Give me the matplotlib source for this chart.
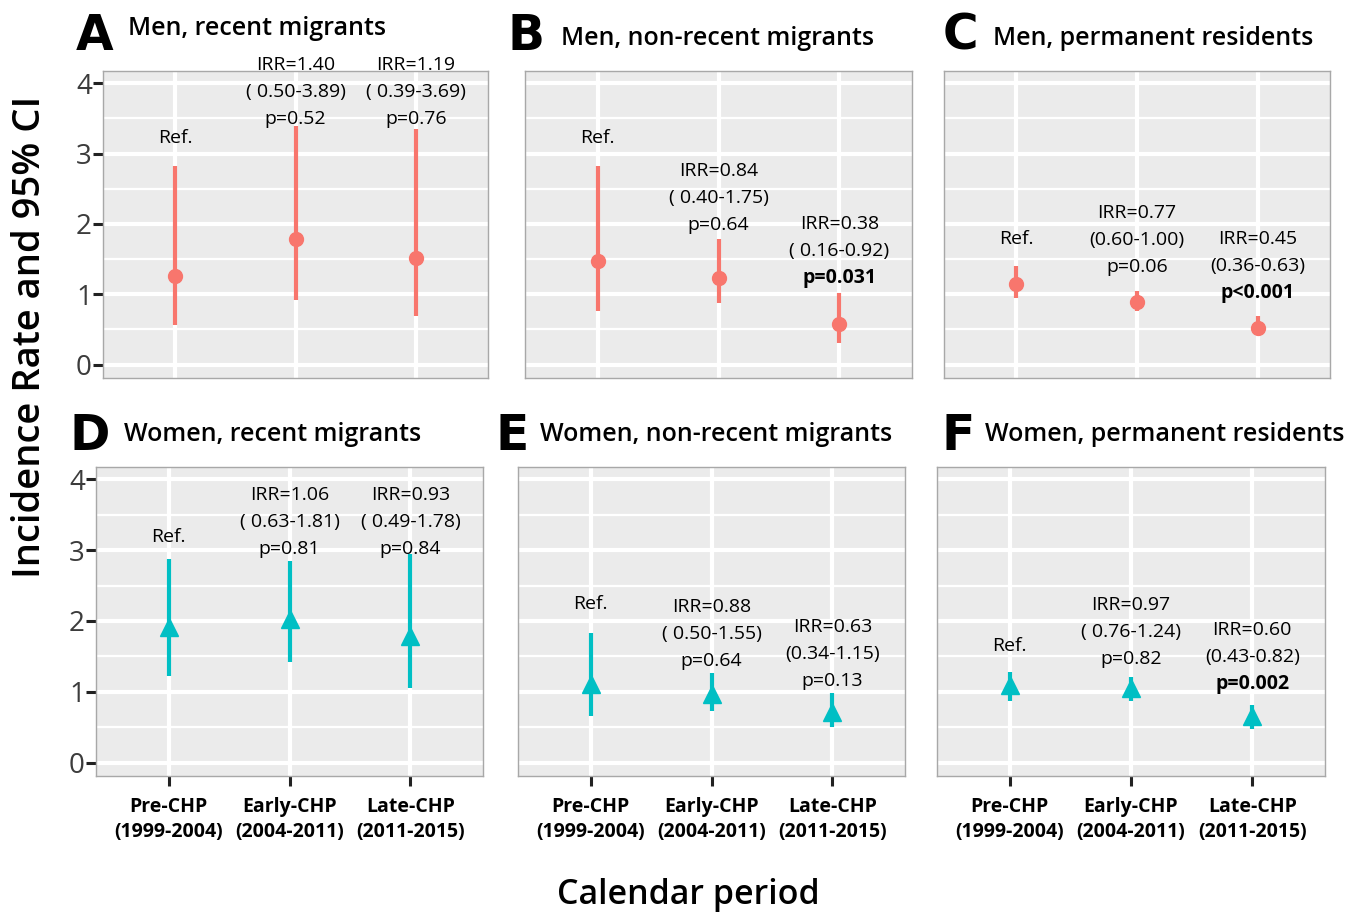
import numpy as np
import matplotlib
matplotlib.use("Agg")
import matplotlib.pyplot as plt

W, H = 1368, 918

periods = ["Pre-CHP\n(1999-2004)", "Early-CHP\n(2004-2011)", "Late-CHP\n(2011-2015)"]
letters = ["A", "B", "C", "D", "E", "F"]
titles = ["Men, recent migrants", "Men, non-recent migrants", "Men, permanent residents",
          "Women, recent migrants", "Women, non-recent migrants", "Women, permanent residents"]

# incidence rate (point) and 95% CI per panel, one row per period
rate = [[1.26, 1.78, 1.51], [1.48, 1.23, 0.58], [1.14, 0.89, 0.52],
        [1.91, 2.03, 1.79], [1.11, 0.97, 0.72], [1.09, 1.06, 0.66]]
lo = [[0.57, 0.92, 0.69], [0.76, 0.88, 0.31], [0.95, 0.76, 0.43],
      [1.22, 1.42, 1.06], [0.66, 0.73, 0.50], [0.87, 0.87, 0.47]]
hi = [[2.82, 3.39, 3.35], [2.83, 1.78, 1.02], [1.40, 1.04, 0.69],
      [2.87, 2.85, 2.94], [1.83, 1.26, 0.98], [1.28, 1.21, 0.82]]

irr = [[None, "1.40", "1.19"], [None, "0.84", "0.38"], [None, "0.77", "0.45"],
       [None, "1.06", "0.93"], [None, "0.88", "0.63"], [None, "0.97", "0.60"]]
irr_ci = [[None, "( 0.50-3.89)", "( 0.39-3.69)"], [None, "( 0.40-1.75)", "( 0.16-0.92)"],
          [None, "(0.60-1.00)", "(0.36-0.63)"], [None, "( 0.63-1.81)", "( 0.49-1.78)"],
          [None, "( 0.50-1.55)", "(0.34-1.15)"], [None, "( 0.76-1.24)", "(0.43-0.82)"]]
pval = [[None, "p=0.52", "p=0.76"], [None, "p=0.64", "p=0.031"], [None, "p=0.06", "p<0.001"],
        [None, "p=0.81", "p=0.84"], [None, "p=0.64", "p=0.13"], [None, "p=0.82", "p=0.002"]]
significant = [[False, False, False], [False, False, True], [False, False, True],
               [False, False, False], [False, False, False], [False, False, True]]

# where each annotation block is centred (data units)
label_y = [[3.22, 3.88, 3.88], [3.22, 2.37, 1.62], [1.79, 1.77, 1.40],
           [3.18, 3.40, 3.40], [2.24, 1.81, 1.53], [1.65, 1.84, 1.49]]

# panel boxes in pixels: left, top, right, bottom
boxes = [(103, 71, 488, 378), (525, 71, 912, 378), (944, 71, 1330, 378),
         (96, 467, 483, 776), (518, 467, 905, 776), (937, 467, 1325, 776)]
letter_pos = [(76, 50), (507, 50), (943, 50), (69, 450), (496, 450), (942, 450)]
title_pos = [(128, 35), (561, 45), (993, 45), (124, 441), (540, 441), (985, 441)]

RED, TEAL = "#F8766D", "#00BFC4"
FONT = "Open Sans"
plt.rcParams["font.family"] = [FONT, "DejaVu Sans"]

fig = plt.figure(figsize=(W / 100, H / 100), dpi=100)


def px(x, y):
    return x / W, 1 - y / H


LINE = 19.4  # points between annotation lines

for i in range(6):
    l, t, r, b = boxes[i]
    ax = fig.add_axes([l / W, 1 - b / H, (r - l) / W, (b - t) / H])
    ax.set_facecolor("#EBEBEB")
    ax.set_xlim(0.4, 3.6)
    ax.set_ylim(-0.19, 4.175)
    ax.set_yticks(range(5))
    ax.set_yticks(np.arange(0.5, 4, 1), minor=True)
    ax.set_xticks([1, 2, 3])
    ax.grid(which="major", color="white", lw=3.0, zorder=0)
    ax.grid(which="minor", axis="y", color="white", lw=1.6, zorder=0)
    ax.set_axisbelow(True)
    for s in ax.spines.values():
        s.set_color("#A8A8A8")
        s.set_linewidth(1.0)
    ax.tick_params(which="minor", length=0)
    bottom_row = i >= 3
    if i % 3 == 0:
        ax.set_yticklabels([str(v) for v in range(5)], fontsize=20, color="#3C3C3C")
        ax.tick_params(axis="y", length=7, width=2.2, color="#222222", pad=1)
    else:
        ax.tick_params(axis="y", length=0, labelleft=False)
    if bottom_row:
        ax.set_xticklabels(periods, fontsize=14, fontweight="bold", linespacing=1.35)
        ax.tick_params(axis="x", length=7, width=2.2, color="#222222", pad=8)
    else:
        ax.tick_params(axis="x", length=0, labelbottom=False)

    col = TEAL if bottom_row else RED
    mk = "^" if bottom_row else "o"
    ms = 12.5 if bottom_row else 10
    x = np.arange(1, 4)
    ax.vlines(x, lo[i], hi[i], color=col, lw=3.0, zorder=3)
    ax.plot(x, rate[i], ls="none", marker=mk, ms=ms, color=col, mec=col, zorder=4)

    for j in range(3):
        ly = label_y[i][j]
        if irr[i][j] is None:
            ax.text(j + 1, ly, "Ref.", ha="center", va="center", fontsize=14, fontweight="medium")
            continue
        lines = ["IRR=" + irr[i][j], irr_ci[i][j], pval[i][j]]
        for k, s in enumerate(lines):
            bold = k == 2 and significant[i][j]
            ax.annotate(s, (j + 1, ly), xytext=(0, (1 - k) * LINE), textcoords="offset points",
                        ha="center", va="center", fontsize=14,
                        fontweight="bold" if bold else "medium")

    lx, lyy = letter_pos[i]
    fig.text(*px(lx, lyy), letters[i], fontsize=35, fontweight="heavy", family="DejaVu Sans",
             ha="left", va="baseline")
    tx, tyy = title_pos[i]
    fig.text(*px(tx, tyy), titles[i], fontsize=18, fontweight="semibold", ha="left", va="baseline")

fig.text(*px(30, 337), "Incidence Rate and 95% CI", rotation=90, fontsize=27.5,
         fontweight="semibold", ha="center", va="center")
fig.text(*px(688, 895), "Calendar period", fontsize=24.5, fontweight="semibold",
         ha="center", va="center")

fig.savefig("out.png", dpi=100)
